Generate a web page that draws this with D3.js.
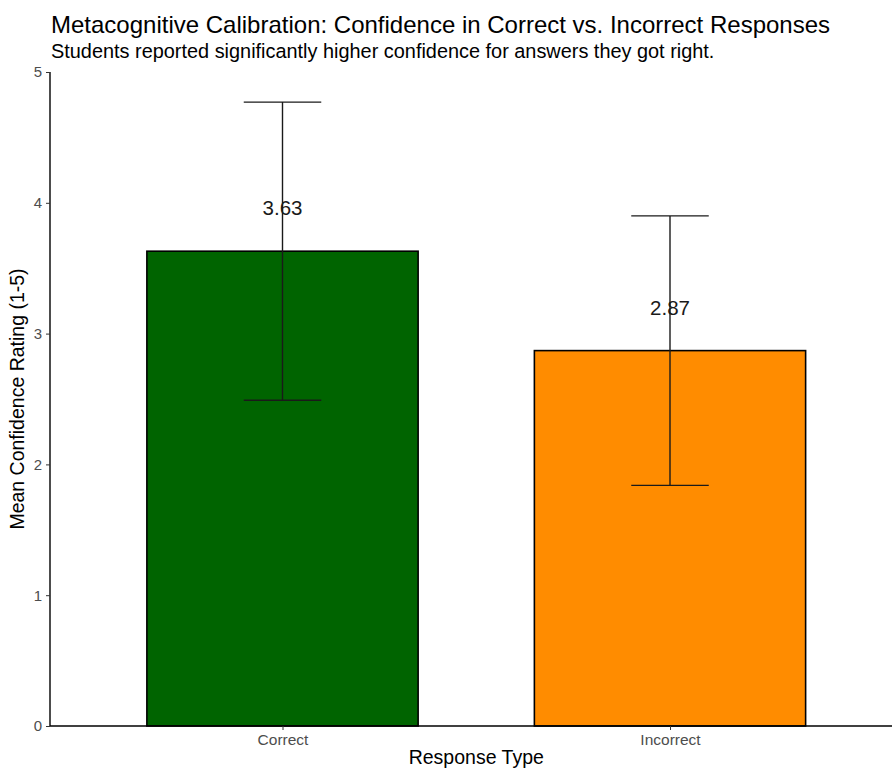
<!DOCTYPE html>
<html>
<head>
<meta charset="utf-8">
<script src="https://cdn.jsdelivr.net/npm/d3@7"></script>
<style>
  body { margin: 0; background: #fff; }
  text { font-family: "Liberation Sans", Arial, sans-serif; }
</style>
</head>
<body>
<div id="chart"></div>
<script>
// data
var categories = ["Correct", "Incorrect"];
var means = [3.63, 2.87];
var sds = [1.14, 1.03];
var barColors = ["#006400", "#FF8C00"];
var yTicks = [0, 1, 2, 3, 4, 5];

var width = 892, height = 769;
var margin = { top: 72, left: 50, bottom: 43 };
// ggplot discrete axis: 0.6 expansion each side, right edge falls off the canvas
var plotRight = 902.5;
var plotBottom = height - margin.bottom;   // ~726

var svg = d3.select("#chart")
  .append("svg")
  .attr("width", width)
  .attr("height", height);

var x = d3.scaleLinear()
  .domain([0.4, 2.6])
  .range([margin.left, plotRight]);
var unit = x(2) - x(1);

var y = d3.scaleLinear()
  .domain([0, 5])
  .range([plotBottom, margin.top]);

var rows = categories.map(function (c, i) {
  return { cat: c, pos: i + 1, mean: means[i], sd: sds[i], color: barColors[i] };
});

// bars
svg.selectAll("rect.bar")
  .data(rows)
  .enter()
  .append("rect")
  .attr("class", "bar")
  .attr("x", function (d) { return x(d.pos) - unit * 0.35; })
  .attr("width", unit * 0.7)
  .attr("y", function (d) { return y(d.mean); })
  .attr("height", function (d) { return y(0) - y(d.mean); })
  .attr("fill", function (d) { return d.color; })
  .attr("stroke", "#000")
  .attr("stroke-width", 1.6);

// value labels
svg.selectAll("text.val")
  .data(rows)
  .enter()
  .append("text")
  .attr("class", "val")
  .attr("x", function (d) { return x(d.pos); })
  .attr("y", function (d) { return y(d.mean + 0.33); })
  .attr("dy", "0.35em")
  .attr("text-anchor", "middle")
  .style("font-size", "20.5px")
  .style("fill", "#1a1a1a")
  .text(function (d) { return d.mean.toFixed(2); });

// error bars (drawn over the labels like the original)
var eb = svg.selectAll("g.err")
  .data(rows)
  .enter()
  .append("g")
  .attr("class", "err")
  .attr("stroke", "#1a1a1a")
  .attr("stroke-width", 1.4);
eb.append("line")
  .attr("x1", function (d) { return x(d.pos); })
  .attr("x2", function (d) { return x(d.pos); })
  .attr("y1", function (d) { return y(d.mean - d.sd); })
  .attr("y2", function (d) { return y(d.mean + d.sd); });
eb.append("line")
  .attr("x1", function (d) { return x(d.pos) - unit * 0.1; })
  .attr("x2", function (d) { return x(d.pos) + unit * 0.1; })
  .attr("y1", function (d) { return y(d.mean + d.sd); })
  .attr("y2", function (d) { return y(d.mean + d.sd); });
eb.append("line")
  .attr("x1", function (d) { return x(d.pos) - unit * 0.1; })
  .attr("x2", function (d) { return x(d.pos) + unit * 0.1; })
  .attr("y1", function (d) { return y(d.mean - d.sd); })
  .attr("y2", function (d) { return y(d.mean - d.sd); });

// y axis
var yAxis = svg.append("g")
  .attr("transform", "translate(" + margin.left + ",0)")
  .call(d3.axisLeft(y).tickValues(yTicks).tickSize(4).tickPadding(4).tickFormat(d3.format("d")));
yAxis.select(".domain").attr("stroke", "#000").attr("stroke-width", 1.4).attr("d", "M0," + y(0) + "V" + y(5));
yAxis.selectAll(".tick line").attr("stroke", "#333");
yAxis.selectAll(".tick text").style("font-size", "15px").style("fill", "#4d4d4d")
  .style("font-family", "Liberation Sans, Arial, sans-serif");

// x axis
var xAxis = svg.append("g")
  .attr("transform", "translate(0," + plotBottom + ")")
  .call(d3.axisBottom(x).tickValues([1, 2]).tickSize(4).tickPadding(4)
    .tickFormat(function (d) { return categories[d - 1]; }));
xAxis.select(".domain").attr("stroke", "#000").attr("stroke-width", 1.4).attr("d", "M" + margin.left + ",0H" + plotRight);
xAxis.selectAll(".tick line").attr("stroke", "#333");
xAxis.selectAll(".tick text").style("font-size", "15.5px").style("fill", "#4d4d4d")
  .style("font-family", "Liberation Sans, Arial, sans-serif");

// axis titles
svg.append("text")
  .attr("x", (margin.left + plotRight) / 2)
  .attr("y", 764)
  .attr("text-anchor", "middle")
  .style("font-size", "19.5px")
  .style("fill", "#000")
  .text("Response Type");

svg.append("text")
  .attr("transform", "translate(24," + (y(0) + y(5)) / 2 + ") rotate(-90)")
  .attr("text-anchor", "middle")
  .style("font-size", "19.5px")
  .style("fill", "#000")
  .text("Mean Confidence Rating (1-5)");

// title and subtitle
svg.append("text")
  .attr("x", 51)
  .attr("y", 33)
  .style("font-size", "24px")
  .style("fill", "#000")
  .text("Metacognitive Calibration: Confidence in Correct vs. Incorrect Responses");

svg.append("text")
  .attr("x", 51)
  .attr("y", 58)
  .style("font-size", "19.9px")
  .style("fill", "#000")
  .text("Students reported significantly higher confidence for answers they got right.");
</script>
</body>
</html>
